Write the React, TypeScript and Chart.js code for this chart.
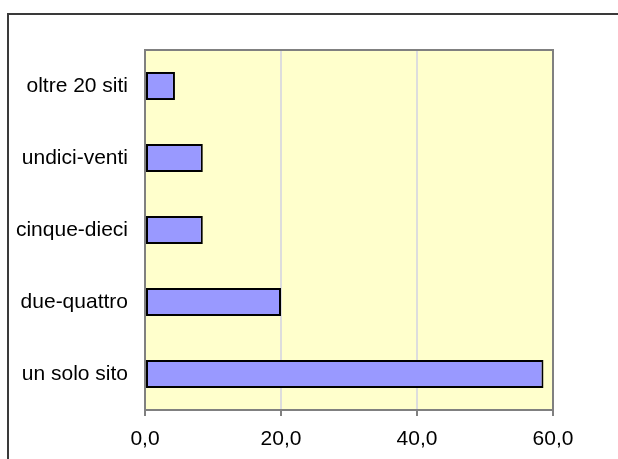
import React, { useEffect, useRef } from "react";
import { Chart, registerables } from "chart.js";

Chart.register(...registerables);

// Number of sites per respondent (percent)
const categories = ["oltre 20 siti", "undici-venti", "cinque-dieci", "due-quattro", "un solo sito"];
const percentages = [4.4, 8.5, 8.5, 20.0, 58.6];
const axisMin = 0;
const axisMax = 60;
const axisStep = 20;

const FONT = "Liberation Sans, Arial, sans-serif";

const formatTick = (v: number) => v.toFixed(1).replace(".", ",");

// Pale yellow plot area, gray plot frame and the outer chart frame
const framePlugin = {
  id: "frames",
  beforeDraw(chart: any) {
    const { ctx, chartArea: a } = chart;
    ctx.save();
    ctx.fillStyle = "#FFFFFF";
    ctx.fillRect(0, 0, chart.width, chart.height);
    ctx.strokeStyle = "#3a3a3a";
    ctx.lineWidth = 2;
    ctx.strokeRect(8, 14, chart.width + 20, chart.height + 20);
    ctx.fillStyle = "#FFFFCC";
    ctx.fillRect(a.left, a.top, a.right - a.left, a.bottom - a.top);
    ctx.restore();
  },
  beforeDatasetsDraw(chart: any) {
    const { ctx, chartArea: a } = chart;
    ctx.save();
    ctx.strokeStyle = "#808080";
    ctx.lineWidth = 2;
    ctx.strokeRect(a.left, a.top, a.right - a.left, a.bottom - a.top);
    ctx.restore();
  },
};

export default function App() {
  const ref = useRef<HTMLCanvasElement | null>(null);

  useEffect(() => {
    if (!ref.current) return;
    const chart = new Chart(ref.current, {
      type: "bar",
      data: {
        labels: categories,
        datasets: [
          {
            data: percentages,
            backgroundColor: "#9999FF",
            borderColor: "#000000",
            borderWidth: 2,
            borderSkipped: false,
            categoryPercentage: 1,
            barPercentage: 0.39,
          },
        ],
      },
      options: {
        indexAxis: "y",
        animation: false,
        responsive: false,
        maintainAspectRatio: false,
        layout: { padding: { left: 0, right: 65, top: 50, bottom: 0 } },
        plugins: { legend: { display: false }, tooltip: { enabled: false } },
        scales: {
          x: {
            min: axisMin,
            max: axisMax,
            ticks: {
              stepSize: axisStep,
              color: "#000000",
              font: { family: FONT, size: 21 },
              padding: 11,
              callback: (v: any) => formatTick(Number(v)),
            },
            grid: {
              color: (c: any) =>
                c.tick && (c.tick.value === axisMin || c.tick.value === axisMax) ? "#808080" : "#DDDDDD",
              lineWidth: 2,
              tickLength: 6,
              tickColor: "#808080",
              drawTicks: true,
            },
            border: { display: true, color: "#808080", width: 2 },
            afterFit: (s: any) => {
              s.height = 49;
            },
          },
          y: {
            ticks: {
              color: "#000000",
              font: { family: FONT, size: 21 },
              padding: 17,
            },
            grid: { display: false, drawTicks: false },
            border: { display: false },
            afterFit: (s: any) => {
              s.width = 145;
            },
          },
        },
      },
      plugins: [framePlugin],
    });
    return () => chart.destroy();
  }, []);

  return (
    <div style={{ position: "fixed", left: 0, top: 0, width: 618, height: 459 }}>
      <canvas ref={ref} width={618} height={459} style={{ display: "block" }} />
    </div>
  );
}
